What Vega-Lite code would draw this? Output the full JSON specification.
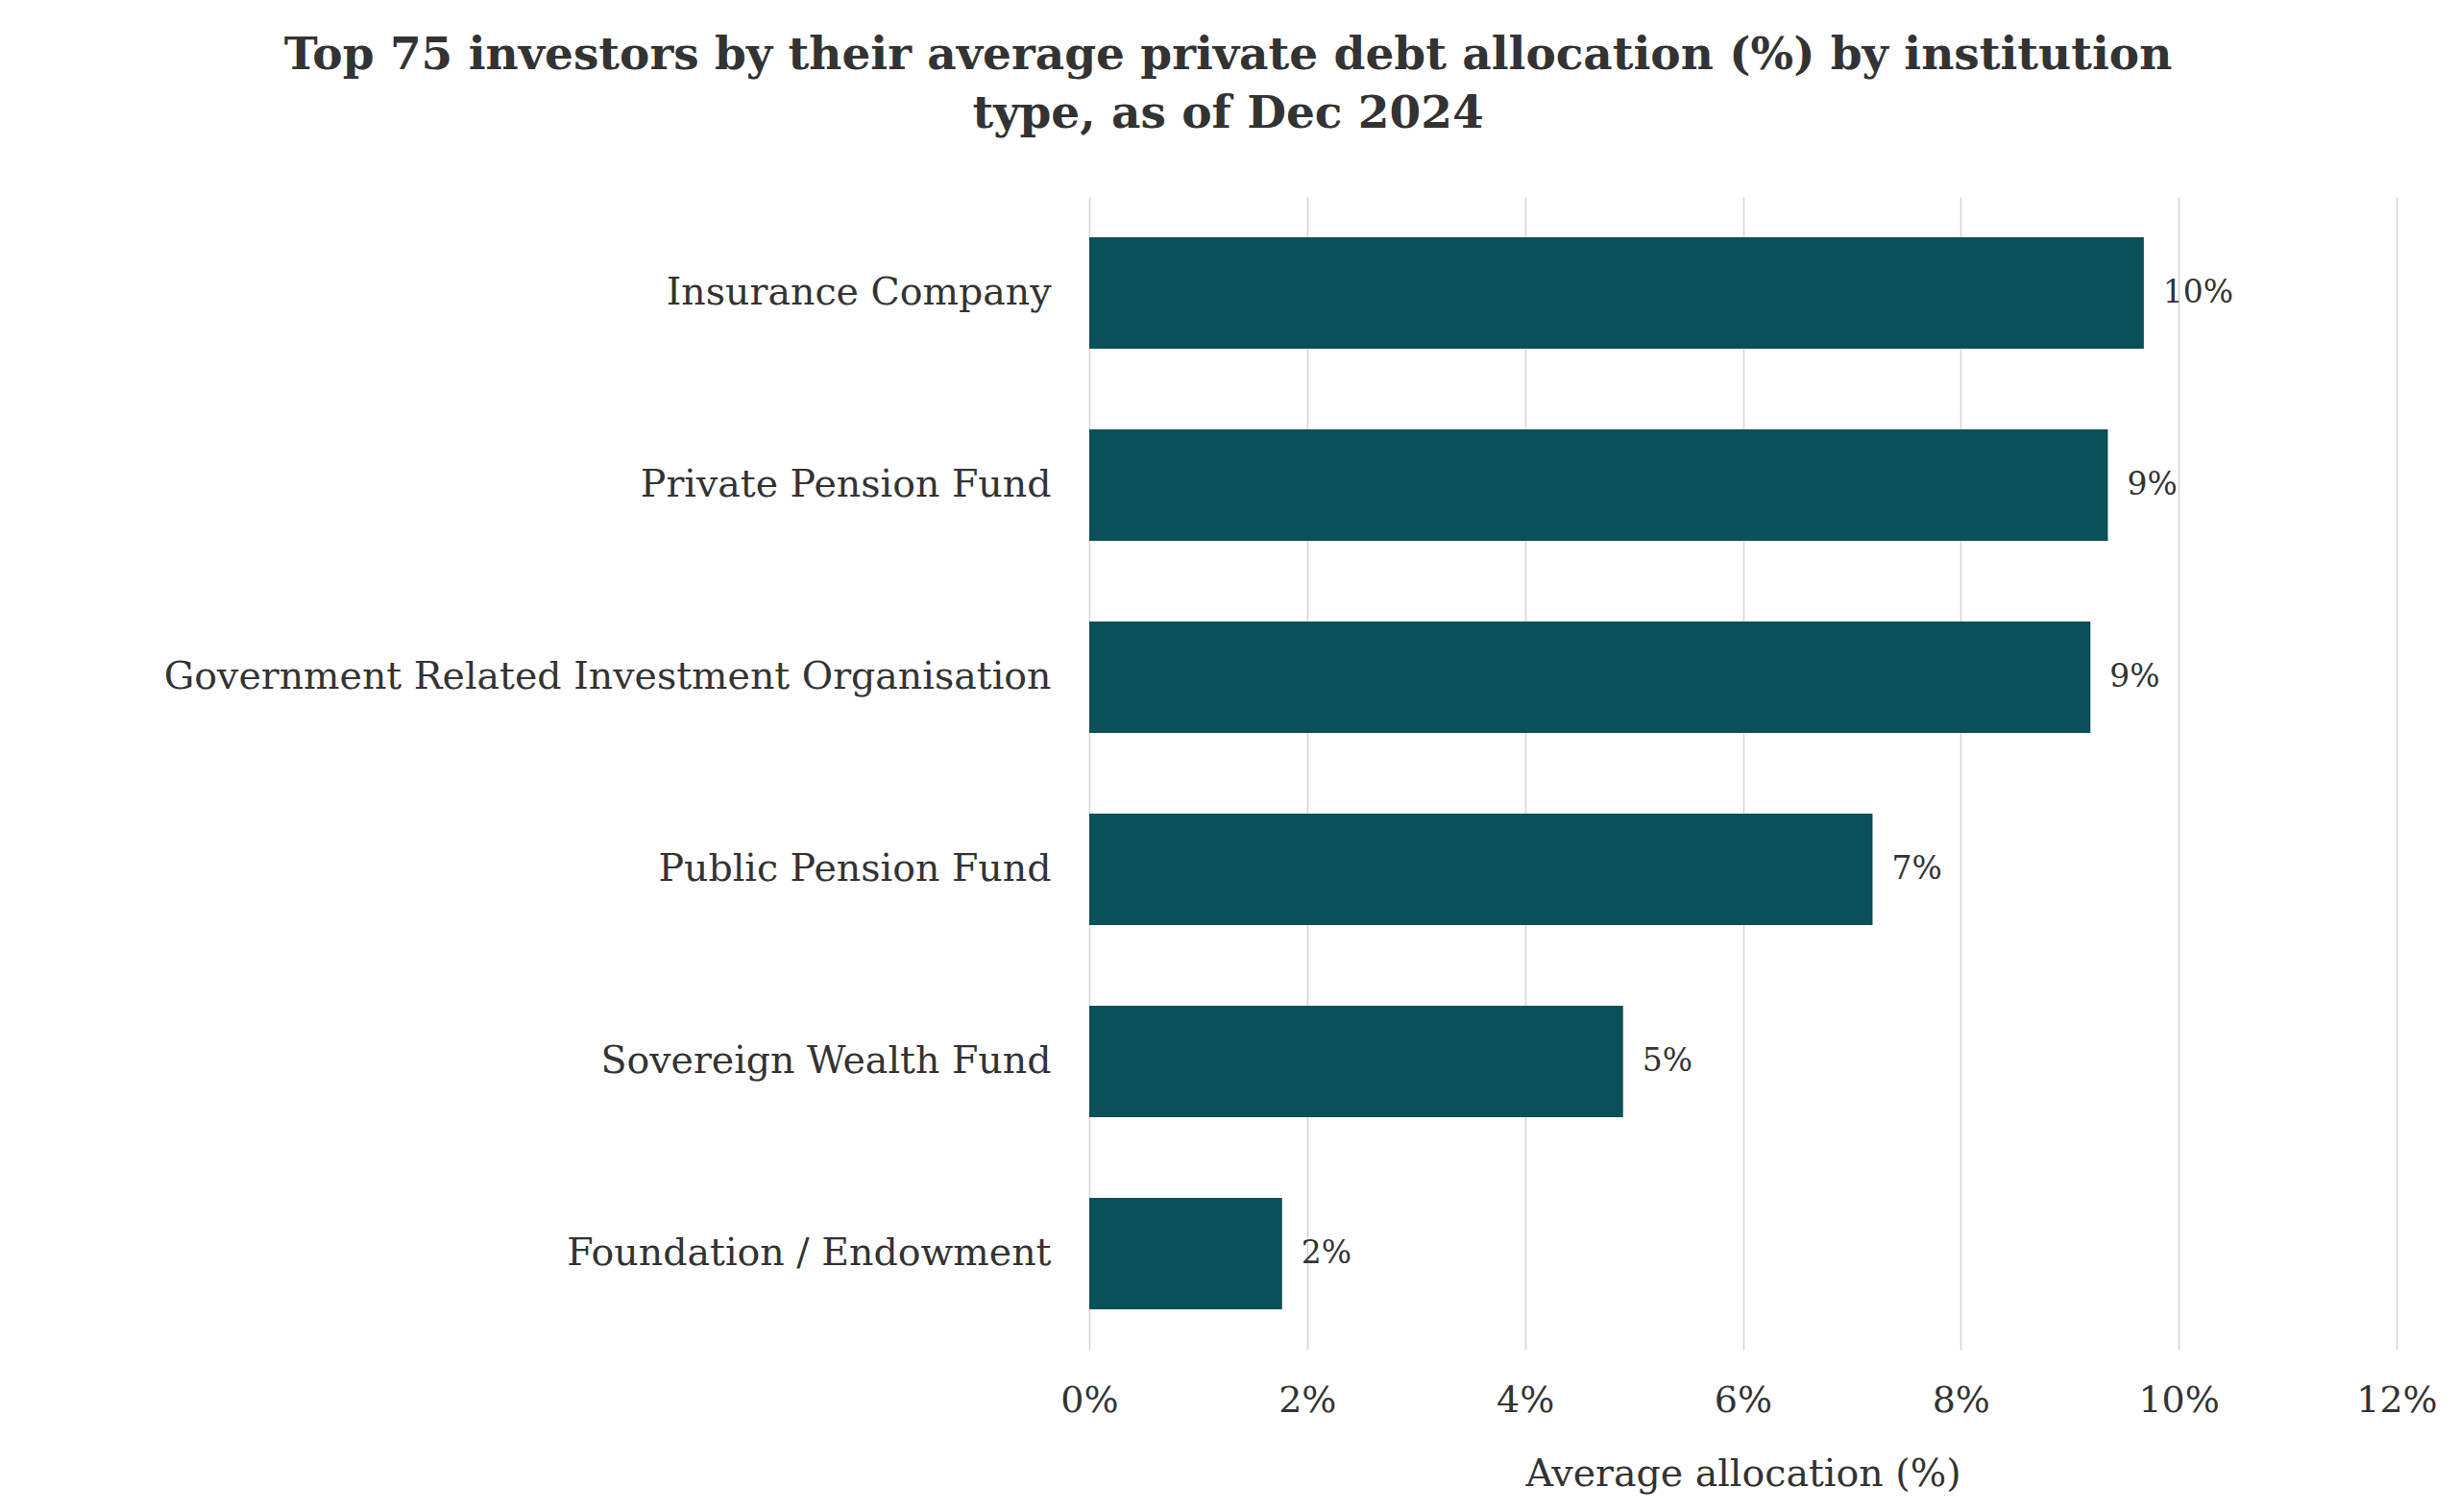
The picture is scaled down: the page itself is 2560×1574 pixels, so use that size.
{
  "$schema": "https://vega.github.io/schema/vega-lite/v6.json",
  "description": "Top 75 investors by average private debt allocation by institution type.",
  "autosize": "none",
  "width": 1361,
  "height": 1200,
  "padding": {"left": 1134, "top": 205, "right": 65, "bottom": 169},
  "background": "white",
  "title": {
    "text": ["Top 75 investors by their average private debt allocation (%) by institution", "type, as of Dec 2024"],
    "anchor": "middle",
    "dx": -536,
    "offset": 62,
    "font": "DejaVu Serif",
    "fontSize": 47,
    "fontWeight": "bold",
    "color": "#333333",
    "lineHeight": 61
  },
  "config": {
    "view": {"stroke": null},
    "font": "DejaVu Serif"
  },
  "data": {
    "values": [
      {"type": "Insurance Company", "allocation": 0.0968},
      {"type": "Private Pension Fund", "allocation": 0.0935},
      {"type": "Government Related Investment Organisation", "allocation": 0.0919},
      {"type": "Public Pension Fund", "allocation": 0.0719},
      {"type": "Sovereign Wealth Fund", "allocation": 0.049},
      {"type": "Foundation / Endowment", "allocation": 0.0177}
    ]
  },
  "encoding": {
    "y": {
      "field": "type",
      "type": "nominal",
      "sort": null,
      "title": null,
      "scale": {"paddingInner": 0.42, "paddingOuter": 0.21},
      "axis": {
        "domain": false,
        "ticks": false,
        "labelFontSize": 39.5,
        "labelColor": "#333333",
        "labelPadding": 40,
        "labelLimit": 1100
      }
    },
    "x": {
      "field": "allocation",
      "type": "quantitative",
      "title": "Average allocation (%)",
      "scale": {"domain": [0, 0.12]},
      "axis": {
        "format": ".0%",
        "values": [0, 0.02, 0.04, 0.06, 0.08, 0.1, 0.12],
        "domain": false,
        "ticks": false,
        "grid": true,
        "gridColor": "#d4d4d4",
        "gridWidth": 1.5,
        "labelFlush": false,
        "labelFontSize": 38,
        "labelColor": "#333333",
        "labelPadding": 34,
        "titleFontSize": 39.5,
        "titleFontWeight": "normal",
        "titleColor": "#333333",
        "titlePadding": 38
      }
    }
  },
  "layer": [
    {"mark": {"type": "bar", "color": "#0a5058"}},
    {
      "mark": {"type": "text", "align": "left", "dx": 20, "fontSize": 33, "color": "#333333"},
      "encoding": {"text": {"field": "allocation", "type": "quantitative", "format": ".0%"}}
    }
  ]
}
